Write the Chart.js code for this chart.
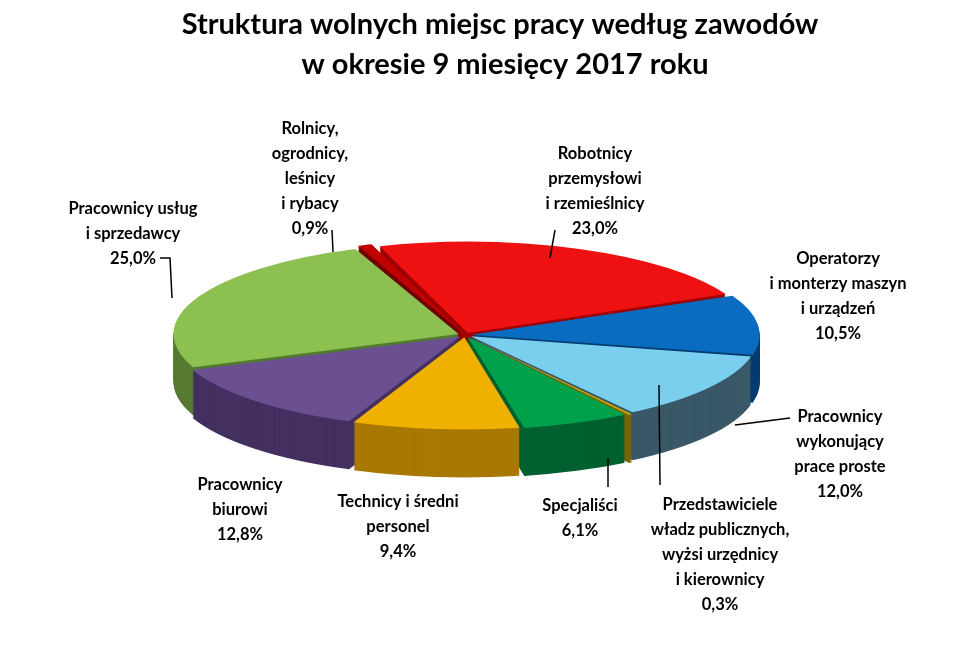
<!DOCTYPE html>
<html>
<head>
<meta charset="utf-8">
<script src="https://cdn.jsdelivr.net/npm/chart.js@4"></script>
<style>
  body { margin: 0; background: #fff; }
  #wrap { width: 980px; height: 660px; }
</style>
</head>
<body>
<div id="wrap"><canvas id="pie" width="980" height="660"></canvas></div>
<script>
const categories = [
    ["Robotnicy", "przemysłowi", "i rzemieślnicy"],
    ["Operatorzy", "i monterzy maszyn", "i urządzeń"],
    ["Pracownicy", "wykonujący", "prace proste"],
    ["Przedstawiciele", "władz publicznych,", "wyżsi urzędnicy", "i kierownicy"],
    ["Specjaliści"],
    ["Technicy i średni", "personel"],
    ["Pracownicy", "biurowi"],
    ["Pracownicy usług", "i sprzedawcy"],
    ["Rolnicy,", "ogrodnicy,", "leśnicy", "i rybacy"]
];
const shares = [23.0, 10.5, 12.0, 0.3, 6.1, 9.4, 12.8, 25.0, 0.9];
const topColors = ["#EE1111", "#0A6CC0", "#7ACFEF", "#C8A800", "#00A14B", "#F0B000", "#6A5090", "#8CC152", "#C00000"];
const sideColors = ["#A00000", "#053C70", "#3A5868", "#7A6400", "#006030", "#A87800", "#443060", "#557A30", "#700000"];

// label text placement (center x, first line y) and leader lines
const labelLayout = [
    { x: 595, y: 145, line: [555, 230, 550, 258] },
    { x: 838, y: 250, line: null },
    { x: 840, y: 408, line: [790, 418, 735, 425] },
    { x: 720, y: 496, line: [660, 485, 659, 385] },
    { x: 580, y: 497, line: [608, 487, 608, 458] },
    { x: 398, y: 493, line: null },
    { x: 240, y: 476, line: null },
    { x: 133, y: 200, line: [160, 258, 170, 258, 172, 298] },
    { x: 310, y: 120, line: [332, 230, 333, 252] }
];

const TILT = 0.32;
const DEPTH = 48;

function tilt(ctx, chart) {
    const el = chart.getDatasetMeta(0).data[0];
    ctx.translate(el.x, el.y);
    ctx.scale(1, TILT);
    ctx.translate(-el.x, -el.y);
}

const pie3d = {
    id: 'pie3d',
    beforeDatasetsDraw(chart) {
        const ctx = chart.ctx;
        const arcs = chart.getDatasetMeta(0).data;
        for (let step = DEPTH; step >= 1; step--) {
            arcs.forEach((arc, i) => {
                const orig = arc.options.backgroundColor;
                arc.options.backgroundColor = sideColors[i];
                ctx.save();
                ctx.translate(0, step);
                tilt(ctx, chart);
                arc.draw(ctx);
                ctx.restore();
                arc.options.backgroundColor = orig;
            });
        }
        ctx.save();
        tilt(ctx, chart);
    },
    afterDatasetsDraw(chart) {
        const ctx = chart.ctx;
        ctx.restore();

        ctx.save();
        ctx.fillStyle = "#000";
        ctx.textAlign = "center";
        ctx.textBaseline = "top";
        ctx.font = "bold 29px Lato";
        ctx.fillText("Struktura wolnych miejsc pracy według zawodów", 500, 10);
        ctx.fillText("w okresie 9 miesięcy 2017 roku", 505, 50);

        ctx.font = "bold 16.5px Lato";
        ctx.strokeStyle = "#000";
        ctx.lineWidth = 1.5;
        categories.forEach((lines, i) => {
            const lay = labelLayout[i];
            const all = lines.concat([shares[i].toFixed(1).replace(".", ",") + "%"]);
            all.forEach((t, k) => ctx.fillText(t, lay.x, lay.y + k * 25));
            if (lay.line) {
                ctx.beginPath();
                ctx.moveTo(lay.line[0], lay.line[1]);
                for (let p = 2; p < lay.line.length; p += 2) ctx.lineTo(lay.line[p], lay.line[p + 1]);
                ctx.stroke();
            }
        });
        ctx.restore();
    }
};

new Chart(document.getElementById('pie'), {
    type: 'pie',
    data: {
        labels: categories.map(c => c.join(" ")),
        datasets: [{
            data: shares,
            backgroundColor: topColors,
            borderWidth: 0,
            offset: 28,
            radius: 285,
            clip: false
        }]
    },
    options: {
        responsive: false,
        animation: false,
        rotation: -18,
        layout: { padding: { left: 0, right: 50, top: 10, bottom: 0 } },
        plugins: { legend: { display: false }, tooltip: { enabled: false } }
    },
    plugins: [pie3d]
});
</script>
</body>
</html>
